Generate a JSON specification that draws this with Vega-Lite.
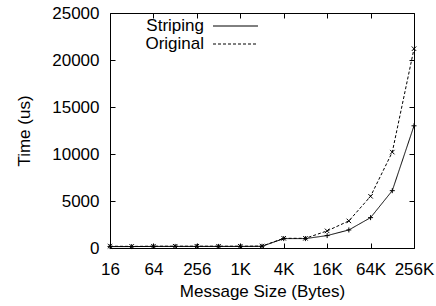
{
  "$schema": "https://vega.github.io/schema/vega-lite/v6.json",
  "autosize": {"type": "none"},
  "width": 304,
  "height": 235,
  "padding": {"left": 110, "top": 13, "right": 22, "bottom": 58},
  "background": "white",
  "config": {
    "font": "Liberation Sans",
    "view": {"stroke": "black", "strokeWidth": 1},
    "axis": {
      "domain": false,
      "grid": false,
      "tickColor": "black",
      "tickSize": -5,
      "labelFont": "Liberation Sans",
      "labelFontSize": 17,
      "labelColor": "black",
      "titleFont": "Liberation Sans",
      "titleFontSize": 17,
      "titleFontWeight": "normal",
      "titleColor": "black"
    }
  },
  "data": {
    "values": [
      {"size": 16, "series": "Striping", "time": 150},
      {"size": 32, "series": "Striping", "time": 150},
      {"size": 64, "series": "Striping", "time": 170},
      {"size": 128, "series": "Striping", "time": 170},
      {"size": 256, "series": "Striping", "time": 170},
      {"size": 512, "series": "Striping", "time": 170},
      {"size": 1024, "series": "Striping", "time": 170},
      {"size": 2048, "series": "Striping", "time": 180},
      {"size": 4096, "series": "Striping", "time": 1000},
      {"size": 8192, "series": "Striping", "time": 1000},
      {"size": 16384, "series": "Striping", "time": 1320},
      {"size": 32768, "series": "Striping", "time": 1920},
      {"size": 65536, "series": "Striping", "time": 3230},
      {"size": 131072, "series": "Striping", "time": 6100},
      {"size": 262144, "series": "Striping", "time": 13000},
      {"size": 16, "series": "Original", "time": 190},
      {"size": 32, "series": "Original", "time": 170},
      {"size": 64, "series": "Original", "time": 190},
      {"size": 128, "series": "Original", "time": 190},
      {"size": 256, "series": "Original", "time": 190},
      {"size": 512, "series": "Original", "time": 190},
      {"size": 1024, "series": "Original", "time": 190},
      {"size": 2048, "series": "Original", "time": 200},
      {"size": 4096, "series": "Original", "time": 1030},
      {"size": 8192, "series": "Original", "time": 1030},
      {"size": 16384, "series": "Original", "time": 1820},
      {"size": 32768, "series": "Original", "time": 2880},
      {"size": 65536, "series": "Original", "time": 5500},
      {"size": 131072, "series": "Original", "time": 10200},
      {"size": 262144, "series": "Original", "time": 21200}
    ]
  },
  "resolve": {"axis": {"x": "independent", "y": "independent"}},
  "layer": [
    {
      "layer": [
        {
          "mark": {"type": "line", "color": "black", "strokeWidth": 1},
          "encoding": {
            "x": {
              "field": "size", "type": "quantitative",
              "scale": {"type": "log", "base": 2, "domain": [16, 262144], "nice": false},
              "axis": {
                "orient": "bottom",
                "values": [16, 64, 256, 1024, 4096, 16384, 65536, 262144],
                "labelExpr": "datum.value >= 1024 ? (datum.value / 1024) + 'K' : '' + datum.value",
                "labelPadding": 18,
                "labelFlush": false,
                "labelOverlap": false,
                "title": "Message Size (Bytes)",
                "titlePadding": 6
              }
            },
            "y": {
              "field": "time", "type": "quantitative",
              "scale": {"domain": [0, 25000], "nice": false},
              "axis": {
                "orient": "left",
                "values": [0, 5000, 10000, 15000, 20000, 25000],
                "format": "d",
                "labelPadding": 16,
                "labelFlush": false,
                "labelOverlap": false,
                "title": "Time (us)",
                "titlePadding": 18
              }
            },
            "strokeDash": {
              "field": "series", "type": "nominal",
              "scale": {"domain": ["Striping", "Original"], "range": [[1, 0], [3, 2]]},
              "legend": {
                "orient": "none",
                "legendX": 103,
                "legendY": 4.5,
                "title": null,
                "symbolType": "M-4,0L4,0",
                "symbolSize": 126.5,
                "symbolOffset": 14,
                "symbolStrokeColor": "black",
                "symbolFillColor": "transparent",
                "symbolStrokeWidth": 1,
                "labelAlign": "right",
                "labelOffset": -40,
                "labelFont": "Liberation Sans",
                "labelFontSize": 17,
                "labelColor": "black",
                "rowPadding": 0,
                "padding": 0
              }
            }
          }
        },
        {
          "transform": [{"filter": "datum.series === 'Striping'"}],
          "mark": {"type": "point", "filled": false, "color": "black", "strokeWidth": 1, "size": 25, "opacity": 1, "shape": "M-1,0L1,0M0,-1L0,1"},
          "encoding": {
            "x": {"field": "size", "type": "quantitative"},
            "y": {"field": "time", "type": "quantitative"}
          }
        },
        {
          "transform": [{"filter": "datum.series === 'Original'"}],
          "mark": {"type": "point", "filled": false, "color": "black", "strokeWidth": 1, "size": 20, "opacity": 1, "shape": "M-1,-1L1,1M-1,1L1,-1"},
          "encoding": {
            "x": {"field": "size", "type": "quantitative"},
            "y": {"field": "time", "type": "quantitative"}
          }
        }
      ]
    },
    {
      "mark": {"type": "point", "opacity": 0},
      "encoding": {
        "x": {"field": "size", "type": "quantitative", "axis": {"orient": "top", "values": [16, 64, 256, 1024, 4096, 16384, 65536, 262144], "labels": false, "title": null}},
        "y": {"field": "time", "type": "quantitative", "axis": {"orient": "right", "values": [0, 5000, 10000, 15000, 20000, 25000], "labels": false, "title": null}}
      }
    }
  ]
}
